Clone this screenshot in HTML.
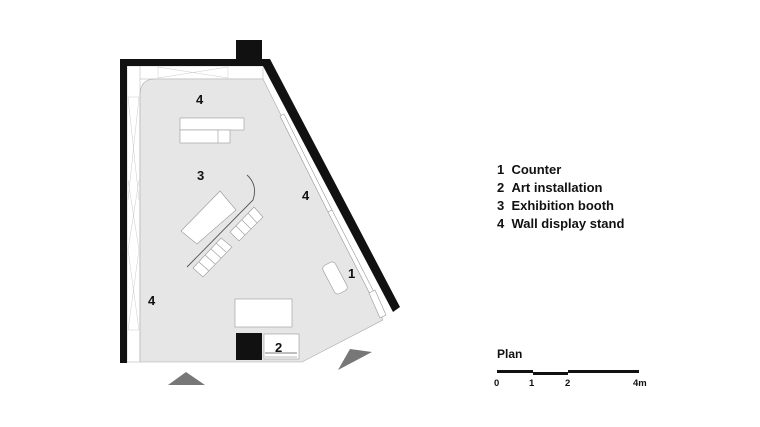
<!DOCTYPE html>
<html><head><meta charset="utf-8"><style>
html,body{margin:0;padding:0;background:#fff}
svg{display:block}
text{font-family:"Liberation Sans",sans-serif;font-weight:bold;fill:#111}
</style></head><body>
<svg width="760" height="427" viewBox="0 0 760 427" xmlns="http://www.w3.org/2000/svg">
<rect x="127" y="66" width="136" height="13" fill="#fff" stroke="#bbb" stroke-width="0.6"/>
<rect x="127" y="66" width="13" height="296" fill="#fff" stroke="#bbb" stroke-width="0.6"/>
<g stroke="#ccc" stroke-width="0.5" fill="none">
<path d="M158 67 L228 78 M158 78 L228 67 M158 67 V78 M228 67 V78"/>
<path d="M128 97 L139 200 M139 97 L128 200 M128 180 L139 250 M139 180 L128 250 M128 250 L139 330 M139 250 L128 330 M128 97 H139 M128 330 H139"/>
</g>
<path d="M155 79 H263 L383 320 L302 362 H140 V95 Q140 79 155 79 Z" fill="#e6e6e6" stroke="#aaa" stroke-width="0.6"/>
<g fill="#fff" stroke="#999" stroke-width="0.6">
<path d="M280 116 L284 114 L332 210 L328 212 Z"/>
<path d="M328 212 L332 210 L376 296 L372 298 Z"/>
<path d="M369 293 L375 290 L386 315 L380 318 Z"/>
</g>
<rect x="120" y="59" width="7" height="304" fill="#111"/>
<rect x="120" y="59" width="145" height="7" fill="#111"/>
<rect x="236" y="40" width="26" height="22" fill="#111"/>
<path d="M263 59 L270 59 L400 307 L393 312 L263 66 Z" fill="#111"/>
<g fill="#fff" stroke="#999" stroke-width="0.6">
<rect x="180" y="118" width="64" height="12"/>
<rect x="180" y="130" width="50" height="13"/>
<line x1="218" y1="130" x2="218" y2="143"/>
<path d="M181 231 L220 191 L236 210 L197 244 Z"/>
<path d="M230 232 L254 207 L263 217 L239 241 Z"/>
<path d="M236 226 L245 235 M242 220 L251 229 M248 213 L257 223"/>
<path d="M193 268 L221 238 L232 247 L203 277 Z"/>
<path d="M199 262 L209 271 M205 255 L215 264 M211 249 L221 258 M216 243 L226 252"/>
<rect x="328" y="262" width="14" height="32" rx="4" transform="rotate(-28 335 278)"/>
<rect x="235" y="299" width="57" height="28"/>
<rect x="264" y="334" width="35" height="25"/>
</g>
<path d="M187 267 L253 200 Q258 185 247 175" fill="none" stroke="#555" stroke-width="0.9"/>
<rect x="236" y="333" width="26" height="27" fill="#111"/>
<line x1="265" y1="353" x2="297" y2="353" stroke="#555" stroke-width="0.8"/>
<line x1="265" y1="357" x2="297" y2="357" stroke="#777" stroke-width="0.6"/>
<path d="M168 385 L186 372 L205 385 Z" fill="#777"/>
<path d="M338 370 L350 349 L372 352 Z" fill="#777"/>
<g font-size="13">
<text x="196" y="104">4</text>
<text x="197" y="180">3</text>
<text x="302" y="200">4</text>
<text x="348" y="278">1</text>
<text x="148" y="305">4</text>
<text x="275" y="352">2</text>
</g>
<g font-size="13">
<text x="497" y="174">1&#160;&#160;Counter</text>
<text x="497" y="192">2&#160;&#160;Art installation</text>
<text x="497" y="210">3&#160;&#160;Exhibition booth</text>
<text x="497" y="228">4&#160;&#160;Wall display stand</text>
<text x="497" y="358" font-size="12">Plan</text>
</g>
<rect x="497" y="370" width="36" height="3" fill="#111"/>
<rect x="533" y="372" width="35" height="3" fill="#111"/>
<rect x="568" y="370" width="71" height="3" fill="#111"/>
<g font-size="9.5">
<text x="494" y="386">0</text>
<text x="529" y="386">1</text>
<text x="565" y="386">2</text>
<text x="633" y="386">4m</text>
</g>
</svg>
</body></html>
